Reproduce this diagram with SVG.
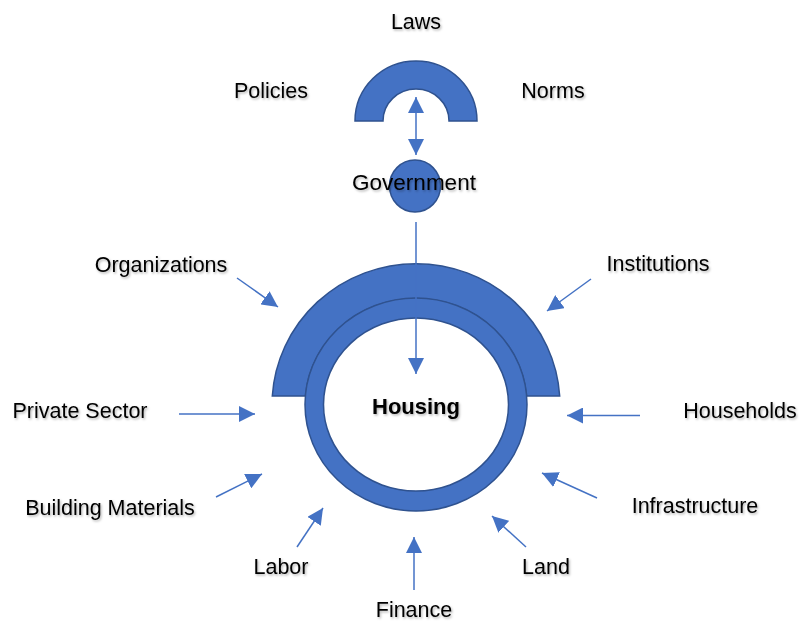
<svg xmlns="http://www.w3.org/2000/svg" width="800" height="621" viewBox="0 0 800 621">
  <style>
    .shape { fill: #4472C4; stroke: #2F528F; stroke-width: 1.5; }
    .link { stroke: #4472C4; stroke-width: 1.5; fill: none; marker-end: url(#head); }
    .label { font-family: "Liberation Sans", Arial, sans-serif; font-size: 21.5px; fill: #000; text-anchor: middle; filter: url(#shadow); }
    .title { font-weight: bold; font-size: 22px; }
  </style>
  <defs>
    <marker id="head" viewBox="0 0 16 16" refX="16" refY="8" markerWidth="16" markerHeight="16" markerUnits="userSpaceOnUse" orient="auto-start-reverse">
      <path d="M0,0 L16,8 L0,16 Z" fill="#4472C4"/>
    </marker>
    <filter id="shadow" x="-10%" y="-30%" width="120%" height="160%">
      <feDropShadow dx="1.2" dy="1.5" stdDeviation="1" flood-color="#000" flood-opacity="0.3"/>
    </filter>
  </defs>
  <rect width="800" height="621" fill="#fff"/>

  <!-- Laws / Policies / Norms arch -->
  <g id="rules-arch">
    <path class="shape" d="M355,121 A61,60 0 0 1 477,121 L449,121 A33,32 0 0 0 383,121 Z"/>
  </g>

  <!-- Big arch around housing -->
  <g id="support-arch">
    <path class="shape" d="M272.3,396 A144,141.5 0 0 1 559.7,396 L526.6,396 A111,106.5 0 0 0 305.4,396 Z"/>
  </g>

  <!-- Housing ring -->
  <g id="housing">
    <path class="shape" fill-rule="evenodd" d="M305,404.5 A111,106.5 0 1 0 527,404.5 A111,106.5 0 1 0 305,404.5 Z M323.5,404.5 A92.5,86.5 0 1 0 508.5,404.5 A92.5,86.5 0 1 0 323.5,404.5 Z"/>
    <text class="label title" x="416" y="414">Housing</text>
  </g>

  <!-- Connectors -->
  <g id="connectors">
    <line class="link" x1="416" y1="126" x2="416" y2="97" />
    <line class="link" x1="416" y1="126" x2="416" y2="155" />
    <line class="link" x1="416" y1="222" x2="416" y2="374" />
    <line class="link" x1="237" y1="278" x2="278" y2="307" />
    <line class="link" x1="591" y1="279" x2="547" y2="311" />
    <line class="link" x1="179" y1="414" x2="255" y2="414" />
    <line class="link" x1="640" y1="415.5" x2="567" y2="415.5" />
    <line class="link" x1="216" y1="497" x2="262" y2="474" />
    <line class="link" x1="597" y1="498" x2="542" y2="473" />
    <line class="link" x1="297" y1="547" x2="323" y2="508" />
    <line class="link" x1="526" y1="547" x2="492" y2="516" />
    <line class="link" x1="414" y1="590" x2="414" y2="537" />
  </g>

  <!-- Government -->
  <g id="government">
    <ellipse class="shape" cx="415" cy="186" rx="25.5" ry="26"/>
    <text class="label" x="414" y="190" style="font-size:22.5px">Government</text>
  </g>

  <g id="laws"><text class="label" x="416" y="29">Laws</text></g>
  <g id="policies"><text class="label" x="271" y="98">Policies</text></g>
  <g id="norms"><text class="label" x="553" y="98">Norms</text></g>
  <g id="organizations"><text class="label" x="161" y="272">Organizations</text></g>
  <g id="institutions"><text class="label" x="658" y="270.5">Institutions</text></g>
  <g id="private-sector"><text class="label" x="80" y="418">Private Sector</text></g>
  <g id="households"><text class="label" x="740" y="417.5">Households</text></g>
  <g id="building-materials"><text class="label" x="110" y="515">Building Materials</text></g>
  <g id="infrastructure"><text class="label" x="695" y="512.5">Infrastructure</text></g>
  <g id="labor"><text class="label" x="281" y="574">Labor</text></g>
  <g id="land"><text class="label" x="546" y="574">Land</text></g>
  <g id="finance"><text class="label" x="414" y="617">Finance</text></g>
</svg>
